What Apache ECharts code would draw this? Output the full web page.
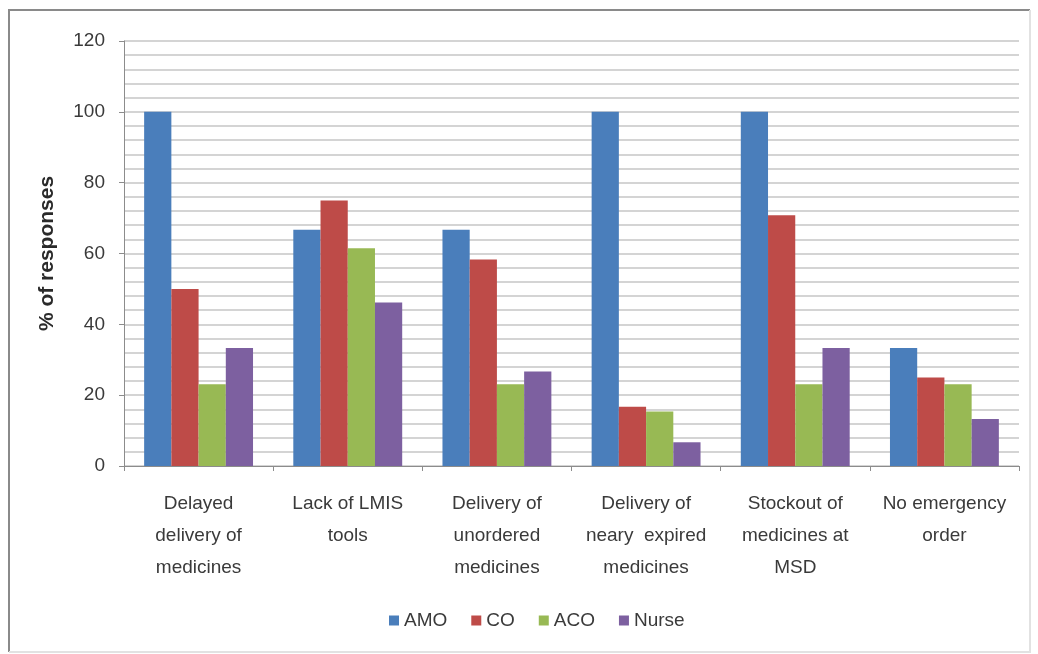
<!DOCTYPE html>
<html>
<head>
<meta charset="utf-8">
<script src="https://cdn.jsdelivr.net/npm/echarts@6/dist/echarts.min.js"></script>
<style>
  html, body { margin: 0; padding: 0; background: #ffffff; }
  #chart { width: 1038px; height: 654px; }
</style>
</head>
<body>
<div id="chart"></div>
<script>
// Problems reported with medicine supply, by cadre (% of responses)
const categories = [
  'Delayed\ndelivery of\nmedicines',
  'Lack of LMIS\ntools',
  'Delivery of\nunordered\nmedicines',
  'Delivery of\nneary  expired\nmedicines',
  'Stockout of\nmedicines at\nMSD',
  'No emergency\norder'
];
const seriesNames = ['AMO', 'CO', 'ACO', 'Nurse'];
const amo   = [100, 66.7, 66.7, 100, 100, 33.3];
const co    = [50, 75, 58.3, 16.7, 70.8, 25];
const aco   = [23.1, 61.5, 23.1, 15.4, 23.1, 23.1];
const nurse = [33.3, 46.2, 26.7, 6.7, 33.3, 13.3];
const yTicks = { min: 0, max: 120, step: 20 };

const colors = ['#4a7ebb', '#be4b48', '#98b954', '#7d60a0'];
const FONT = '"Liberation Sans Narrow", "Liberation Sans", sans-serif';
const TEXT = '#3a3a3a';

const chart = echarts.init(document.getElementById('chart'));
const values = [amo, co, aco, nurse];

chart.setOption({
  animation: false,
  backgroundColor: '#ffffff',
  color: colors,
  textStyle: { fontFamily: FONT },
  grid: { left: 124, right: 19, top: 41, bottom: 188 },
  legend: {
    data: seriesNames,
    bottom: 19,
    left: 384,
    itemWidth: 10,
    itemHeight: 10,
    itemGap: 24,
    icon: 'rect',
    textStyle: { fontFamily: FONT, fontSize: 19, color: TEXT, padding: [0, 0, 0, 0] }
  },
  xAxis: {
    type: 'category',
    data: categories,
    axisLine: { lineStyle: { color: '#8c8c8c', width: 1 } },
    axisTick: { show: true, length: 5, lineStyle: { color: '#8c8c8c' } },
    axisLabel: {
      interval: 0,
      margin: 22,
      fontFamily: FONT,
      fontSize: 19,
      lineHeight: 32,
      color: TEXT,
      align: 'center'
    }
  },
  yAxis: {
    type: 'value',
    min: yTicks.min,
    max: yTicks.max,
    interval: yTicks.step,
    name: '% of responses',
    nameLocation: 'middle',
    nameGap: 66,
    nameRotate: 90,
    nameTextStyle: { fontFamily: FONT, fontSize: 21, fontWeight: 'bold', color: '#2a2a2a' },
    axisLine: { show: true, lineStyle: { color: '#8c8c8c', width: 1 } },
    axisTick: { show: true, length: 5, lineStyle: { color: '#8c8c8c' } },
    axisLabel: { margin: 19, fontFamily: FONT, fontSize: 19, color: TEXT },
    splitLine: { show: true, lineStyle: { color: '#d4d4d4', width: 2 } },
    minorTick: { show: false, splitNumber: 5 },
    minorSplitLine: { show: true, lineStyle: { color: '#d4d4d4', width: 2 } }
  },
  series: seriesNames.map((name, i) => ({
    name: name,
    type: 'bar',
    data: values[i],
    barGap: '0%',
    barCategoryGap: '27%',
    itemStyle: { color: colors[i] }
  })),
  graphic: [
    // frame: darker on the left and top edges, faint on the right and bottom
    {
      type: 'polyline',
      shape: { points: [[9, 652], [9, 10], [1030, 10]] },
      style: { fill: 'none', stroke: '#8a8a8a', lineWidth: 2 },
      silent: true, z: -1
    },
    {
      type: 'polyline',
      shape: { points: [[1030, 10], [1030, 652], [9, 652]] },
      style: { fill: 'none', stroke: '#e2e2e2', lineWidth: 2 },
      silent: true, z: -1
    }
  ]
});
</script>
</body>
</html>
